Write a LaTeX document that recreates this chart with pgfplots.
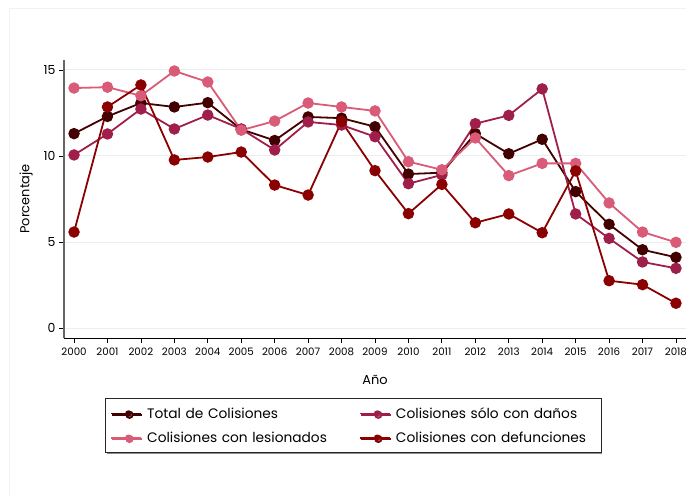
\documentclass[border=0pt]{standalone}
\usepackage{pgfplots}
\pgfplotsset{compat=1.18}
\usepackage{fontspec}
\setmainfont{Poppins}
\usetikzlibrary{shadows}
\definecolor{ctot}{HTML}{420000}
\definecolor{cdan}{HTML}{A01E4A}
\definecolor{cles}{HTML}{D95B77}
\definecolor{cdef}{HTML}{8B0000}
\definecolor{cgrid}{HTML}{E8EEF1}
\begin{document}
\begin{tikzpicture}
\path[use as bounding box] (0,0) rectangle (686bp,496bp);
\draw[color=cgrid!70, line width=0.8bp] (9bp,0) -- (9bp,488bp) -- (686bp,488bp);
\begin{axis}[
  at={(64bp,158bp)}, anchor=south west,
  scale only axis, width=622bp, height=278bp,
  xmin=1999.7, xmax=2018.3, ymin=-0.58, ymax=15.58,
  axis x line*=bottom, axis y line*=left,
  axis line style={-},
  x axis line style={black, line width=0.9bp},
  y axis line style={black!60, line width=1.4bp},
  xtick={2000,...,2018}, ytick={0,5,10,15},
  tick align=outside, major tick length=5bp,
  tick style={black, line width=0.8bp},
  ymajorgrids, grid style={cgrid, line width=1bp},
  /pgf/number format/assume math mode=true,
  xticklabel style={/pgf/number format/1000 sep=, font=\fontsize{10.3}{12}\selectfont, yshift=-1bp},
  yticklabel style={font=\fontsize{12.5}{14}\selectfont},
  xlabel={Año}, ylabel={Porcentaje},
  label style={font=\fontsize{13}{15}\selectfont},
  xlabel style={yshift=-13bp},
  ylabel style={yshift=4bp},
  every axis plot/.append style={line width=1.8bp, mark=*, mark size=4.8bp, mark options={solid}},
  legend columns=2,
  legend cell align=left,
  legend style={at={(0.0659,-0.2158)}, anchor=north west,
    draw=black!85, line width=0.8bp,
    drop shadow={shadow xshift=1.2bp, shadow yshift=-1.2bp, fill=black!45, opacity=1},
    font=\fontsize{13.8}{16}\selectfont,
    inner xsep=5bp, inner ysep=9bp, row sep=12bp,
    nodes={inner sep=0pt, text width=200bp, align=left},
    /tikz/every odd column/.append style={column sep=5bp},
    /tikz/every even column/.append style={column sep=12bp}},
  legend image code/.code={\draw[#1, line width=1.8bp, mark=none] (0bp,0bp) -- (30bp,0bp); \fill[#1, draw=none, mark=none] (17bp,0bp) circle (3.2bp);},
]
\addplot[color=ctot] coordinates {
(2000,11.3)(2001,12.3)(2002,13.08)(2003,12.85)(2004,13.1)(2005,11.55)(2006,10.9)(2007,12.27)(2008,12.2)(2009,11.7)(2010,8.95)(2011,9.03)(2012,11.3)(2013,10.13)(2014,10.97)(2015,7.93)(2016,6.03)(2017,4.55)(2018,4.11)};
\addlegendentry{Total de Colisiones}
\addplot[color=cdan] coordinates {
(2000,10.06)(2001,11.28)(2002,12.73)(2003,11.57)(2004,12.38)(2005,11.57)(2006,10.35)(2007,11.98)(2008,11.8)(2009,11.12)(2010,8.39)(2011,8.9)(2012,11.88)(2013,12.36)(2014,13.9)(2015,6.63)(2016,5.21)(2017,3.84)(2018,3.47)};
\addlegendentry{Colisiones sólo con daños}
\addplot[color=cles] coordinates {
(2000,13.95)(2001,14.0)(2002,13.5)(2003,14.94)(2004,14.3)(2005,11.5)(2006,12.03)(2007,13.08)(2008,12.85)(2009,12.62)(2010,9.67)(2011,9.2)(2012,11.05)(2013,8.86)(2014,9.57)(2015,9.57)(2016,7.27)(2017,5.58)(2018,4.98)};
\addlegendentry{Colisiones con lesionados}
\addplot[color=cdef] coordinates {
(2000,5.58)(2001,12.85)(2002,14.13)(2003,9.77)(2004,9.94)(2005,10.23)(2006,8.31)(2007,7.73)(2008,12.0)(2009,9.15)(2010,6.65)(2011,8.35)(2012,6.12)(2013,6.63)(2014,5.54)(2015,9.13)(2016,2.75)(2017,2.52)(2018,1.44)};
\addlegendentry{Colisiones con defunciones}
\end{axis}
\end{tikzpicture}
\end{document}
